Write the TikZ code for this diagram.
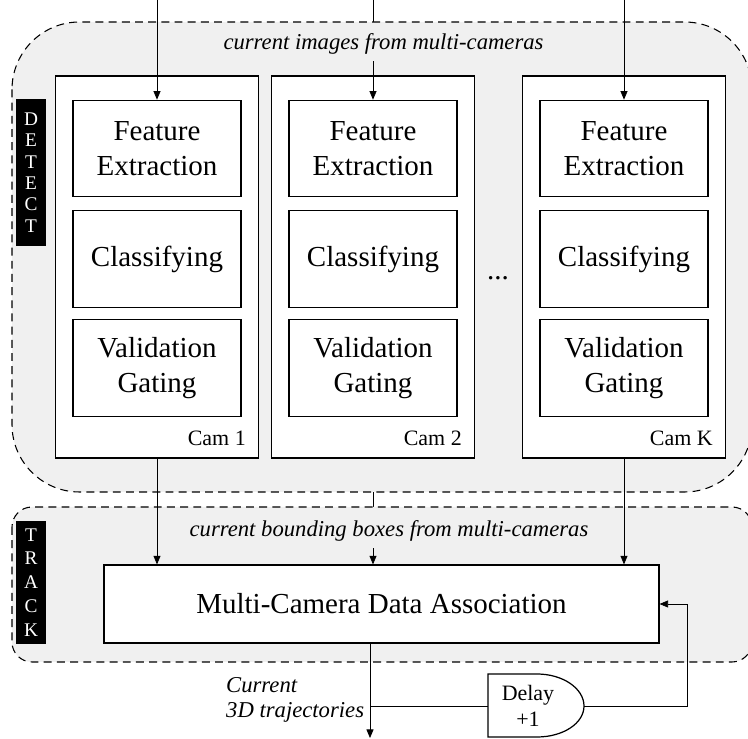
\documentclass[tikz,border=0pt]{standalone}
\usepackage{fontspec}
\setmainfont{Liberation Serif}
\usetikzlibrary{arrows.meta}
\definecolor{regionfill}{gray}{0.94}
\pgfdeclarelayer{under}
\pgfdeclarelayer{region}
\pgfsetlayers{under,region,main}

\tikzset{
  stage/.style={draw, line width=0.7pt, fill=white, minimum width=3.36cm, minimum height=1.93cm, align=center, font=\fontsize{16.5}{19.8}\selectfont},
  cambox/.style={draw, line width=0.7pt, fill=white, minimum width=4.06cm, minimum height=7.64cm},
  region/.style={draw, dash pattern=on 4.5pt off 3pt, line width=0.6pt, fill=regionfill},
  tag/.style={fill=black, text=white, minimum width=0.6cm, inner sep=0pt, align=center},
  note/.style={font=\fontsize{12.9}{14.7}\selectfont\itshape},
}

\begin{document}
\begin{tikzpicture}[x=0.02cm, y=-0.02cm, >={Triangle[length=0.17cm,width=0.14cm]}, line width=0.6pt]
\useasboundingbox (0,0) rectangle (748,739);

% detect and track regions
\begin{pgfonlayer}{region}
  \draw[region, rounded corners=1.35cm] (12,22) rectangle (752,492);
  \draw[region, rounded corners=0.4cm] (12,507) rectangle (752,662);
\end{pgfonlayer}

\node[tag, minimum height=2.94cm, font=\fontsize{11}{12.2}\selectfont] (detect) at (31,172.5) {D\\E\\T\\E\\C\\T};
\node[tag, minimum height=2.46cm, font=\fontsize{11}{13.6}\selectfont] (track) at (31,582.5) {T\\R\\A\\C\\K};

% one column per camera
\foreach \i/\x/\c in {1/157/1, 2/373/2, k/624/K} {
  \node[cambox] (cam\i) at (\x,267) {};
  \node[stage] (fe\i) at (\x,148.5) {Feature\\Extraction};
  \node[stage] (cl\i) at (\x,259) {Classifying};
  \node[stage] (vg\i) at (\x,368) {Validation\\Gating};
  \node[font=\fontsize{12.5}{15}\selectfont, anchor=base east] (lab\i) at ({\x+95},446) {Cam \c};
  \coordinate (in\i) at (\x,0);
}
\node[font=\fontsize{16.5}{19.8}\selectfont, anchor=base] (dots) at (498,280) {...};

\node[note, anchor=base] (imgtxt) at (383.5,50) {current images from multi-cameras};
\node[note, anchor=base] (bbtxt) at (389,537) {current bounding boxes from multi-cameras};

\node[draw, line width=0.7pt, fill=white, minimum width=11.1cm, minimum height=1.56cm,
  font=\fontsize{16.5}{19.8}\selectfont] (mcda) at (381.5,604) {Multi-Camera Data Association};

% inputs
\draw[->] (in1) -- (fe1);
\draw[->] (ink) -- (fek);
\begin{pgfonlayer}{under}
  \draw (in2) -- (fe2.north |- imgtxt.north);
  \draw (cam2) -- (cam2 |- bbtxt.north);
\end{pgfonlayer}
\draw[->] (fe2.north |- imgtxt.south) -- (fe2);

% detections to association
\draw[->] (cam1) -- (cam1 |- mcda.north);
\draw[->] (camk) -- (camk |- mcda.north);
\draw[->] (cam2 |- bbtxt.south) -- (cam2 |- mcda.north);

% output and delay loop
\coordinate (out) at (370,738);
\draw[->] (mcda.south -| out) -- (out);
\node[note, align=left, anchor=base west] (trajtxt) at (220,718) {Current\\3D trajectories};

\draw[line width=0.7pt, fill=white] (488,674) -- (537,674) .. controls (563,674) and (584,688.6) .. (584,706)
  .. controls (584,723.4) and (563,737) .. (537,737) -- (488,737) -- cycle;
\node[align=center, font=\fontsize{12.5}{14.7}\selectfont] (delay) at (528,706) {Delay\\+1};
\coordinate (dw) at (488,706);
\coordinate (de) at (584,706);
\coordinate (fb) at (687,604);
\draw (out |- dw) -- (dw);
\draw[->] (de) -| (fb) -- (mcda.east);
\end{tikzpicture}
\end{document}
